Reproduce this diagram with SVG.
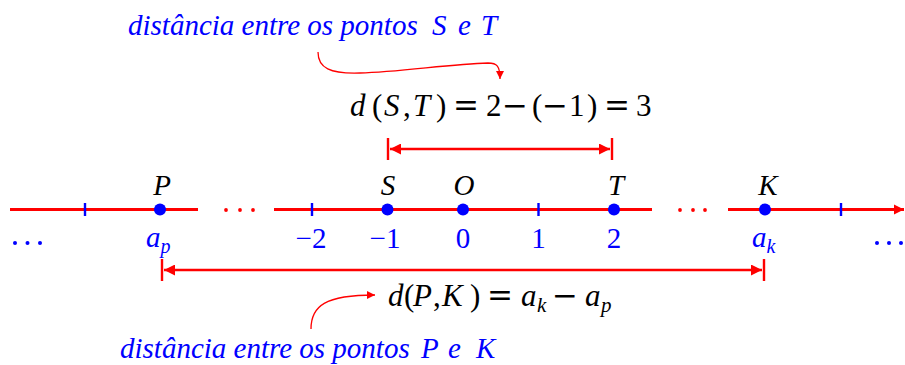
<svg xmlns="http://www.w3.org/2000/svg" width="905" height="365" viewBox="0 0 905 365">
<style>
.ax{stroke:#ff0000;stroke-width:3.2;fill:none}
.rl{stroke:#ff0000;stroke-width:2.4;fill:none}
.cv{stroke:#ff0000;stroke-width:1.3;fill:none}
.tk{stroke:#0000ff;stroke-width:2.4}
.pt{fill:#0000ff}
.rd{fill:#ff0000}
text{font-family:'Liberation Serif','Times New Roman',Times,serif}
.lb{font-style:italic;font-size:29px;fill:#000;text-anchor:middle}
.nm{font-size:29px;fill:#0000ff;text-anchor:middle}
.it{font-style:italic;fill:#0000ff}
.bl{font-style:italic;font-size:29px;fill:#0000ff}
.fm{font-size:31px;fill:#000}
.op{font-family:'DejaVu Serif',serif;font-style:normal}
.i{font-style:italic}
</style>
<defs>
<marker id="ah" viewBox="0 0 10 10" refX="10" refY="5" markerWidth="14" markerHeight="11" markerUnits="userSpaceOnUse" orient="auto-start-reverse">
<path d="M0,0 L10,5 L0,10 Z" fill="#ff0000"/>
</marker>
<marker id="ahs" viewBox="0 0 10 10" refX="10" refY="5" markerWidth="8" markerHeight="8" markerUnits="userSpaceOnUse" orient="auto">
<path d="M0,0 L10,5 L0,10 Z" fill="#ff0000"/>
</marker>
<marker id="ax" viewBox="0 0 10 10" refX="10" refY="5" markerWidth="10" markerHeight="12" markerUnits="userSpaceOnUse" orient="auto">
<path d="M0,0 L10,5 L0,10 Z" fill="#ff0000"/>
</marker>
</defs>

<g id="connectors">
<line class="ax" x1="10" y1="209.5" x2="198" y2="209.5"/>
<line class="ax" x1="274" y1="209.5" x2="652" y2="209.5"/>
<line class="ax" x1="728" y1="209.5" x2="904" y2="209.5" marker-end="url(#ax)"/>
<circle class="rd" cx="226" cy="210" r="1.9"/>
<circle class="rd" cx="240" cy="210" r="1.9"/>
<circle class="rd" cx="253" cy="210" r="1.9"/>
<circle class="rd" cx="680" cy="210" r="1.9"/>
<circle class="rd" cx="693" cy="210" r="1.9"/>
<circle class="rd" cx="705" cy="210" r="1.9"/>
<line class="tk" x1="85" y1="203" x2="85" y2="216"/>
<line class="tk" x1="312" y1="203" x2="312" y2="216"/>
<line class="tk" x1="538.5" y1="203" x2="538.5" y2="216"/>
<line class="tk" x1="841" y1="203" x2="841" y2="216"/>
<line class="rl" x1="388" y1="138" x2="388" y2="160"/>
<line class="rl" x1="612" y1="138" x2="612" y2="160"/>
<line class="rl" x1="390" y1="149" x2="610" y2="149" marker-start="url(#ah)" marker-end="url(#ah)"/>
<line class="rl" x1="162" y1="259" x2="162" y2="281"/>
<line class="rl" x1="764" y1="259" x2="764" y2="281"/>
<line class="rl" x1="164" y1="270" x2="762" y2="270" marker-start="url(#ah)" marker-end="url(#ah)"/>
<path class="cv" d="M318,52 C318,68 330,74 360,73 C400,72 450,64 488,63 C497,63 500,66 500,79" marker-end="url(#ahs)"/>
<path class="cv" d="M311,329 C311,306 325,295 375,295" marker-end="url(#ahs)"/>
</g>

<g id="point-P"><circle class="pt" cx="160" cy="209.5" r="6"/><text class="lb" x="162" y="195">P</text><text class="it" x="146" y="247" font-size="29">a<tspan font-size="20" dy="6">p</tspan></text></g>
<g id="point-S"><circle class="pt" cx="387.5" cy="209.5" r="6"/><text class="lb" x="388" y="195">S</text><text class="nm" x="385" y="248">−1</text></g>
<g id="point-O"><circle class="pt" cx="463" cy="209.5" r="6"/><text class="lb" x="464" y="195">O</text><text class="nm" x="463" y="248">0</text></g>
<g id="point-T"><circle class="pt" cx="614" cy="209.5" r="6"/><text class="lb" x="616" y="195">T</text><text class="nm" x="614" y="248">2</text></g>
<g id="point-K"><circle class="pt" cx="765" cy="209.5" r="6"/><text class="lb" x="768" y="195">K</text><text class="it" x="752" y="247" font-size="29">a<tspan font-size="20" dy="6">k</tspan></text></g>
<g id="tick-labels">
<text class="nm" x="311" y="248">−2</text>
<text class="nm" x="538.5" y="248">1</text>
<circle class="pt" cx="15" cy="243" r="2"/><circle class="pt" cx="27.5" cy="243" r="2"/><circle class="pt" cx="40" cy="243" r="2"/>
<circle class="pt" cx="877" cy="243" r="2"/><circle class="pt" cx="889" cy="243" r="2"/><circle class="pt" cx="901" cy="243" r="2"/>
</g>

<g id="label-ST">
<text class="bl" y="35"><tspan x="128">distância entre os pontos</tspan><tspan x="432">S</tspan><tspan x="458">e</tspan><tspan x="481">T</tspan></text>
</g>
<g id="formula-ST">
<text class="fm" y="116"><tspan class="i" x="350">d</tspan><tspan x="372">(</tspan><tspan class="i" x="384">S</tspan><tspan x="403">,</tspan><tspan class="i" x="413">T</tspan><tspan x="436">)</tspan><tspan class="op" x="453">=</tspan><tspan x="486">2</tspan><tspan class="op" x="502">−</tspan><tspan x="532">(</tspan><tspan class="op" x="542">−</tspan><tspan x="569">1</tspan><tspan x="587">)</tspan><tspan class="op" x="604">=</tspan><tspan x="636">3</tspan></text>
</g>
<g id="formula-PK">
<text class="fm" y="306"><tspan class="i" x="388">d</tspan><tspan x="404">(</tspan><tspan class="i" x="413">P</tspan><tspan x="433">,</tspan><tspan class="i" x="442">K</tspan><tspan x="470">)</tspan><tspan class="op" x="487">=</tspan><tspan class="i" x="521">a</tspan><tspan class="i" x="537" dy="6" font-size="21">k</tspan><tspan class="op" x="552" dy="-6">−</tspan><tspan class="i" x="585">a</tspan><tspan class="i" x="601" dy="6" font-size="21">p</tspan></text>
</g>
<g id="label-PK">
<text class="bl" y="358"><tspan x="120">distância entre os pontos</tspan><tspan x="421">P</tspan><tspan x="448">e</tspan><tspan x="476">K</tspan></text>
</g>
</svg>
